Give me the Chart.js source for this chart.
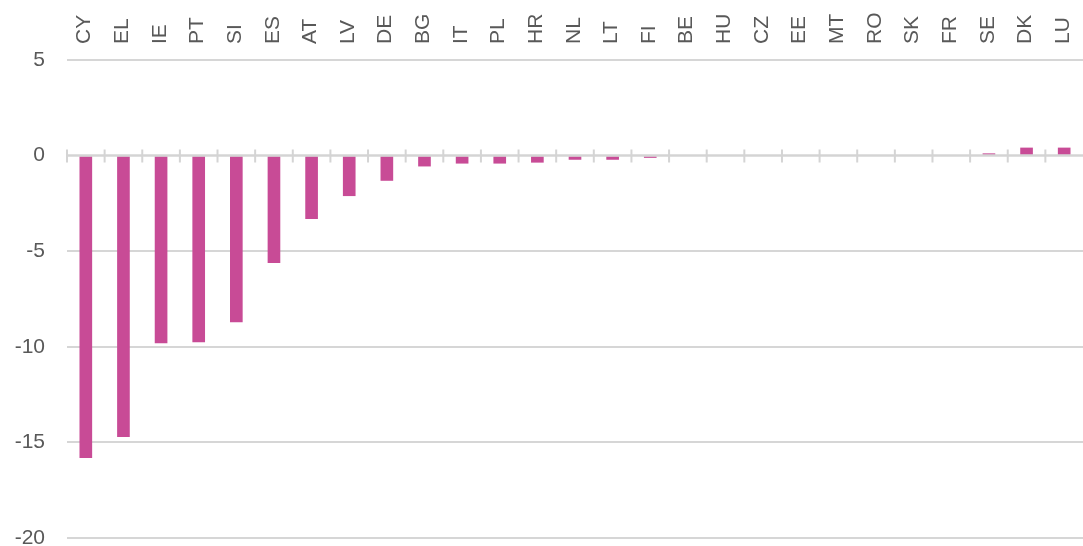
<!DOCTYPE html>
<html>
<head>
<meta charset="utf-8">
<script src="https://cdn.jsdelivr.net/npm/chart.js@4"></script>
<style>
  html, body { margin: 0; padding: 0; background: #fff; }
  #wrap { width: 1083px; height: 546px; position: relative; }
</style>
</head>
<body>
<div id="wrap"><canvas id="myChart"></canvas></div>
<script>
const countries = ['CY','EL','IE','PT','SI','ES','AT','LV','DE','BG','IT','PL','HR','NL','LT','FI','BE','HU','CZ','EE','MT','RO','SK','FR','SE','DK','LU'];
const values = [-15.8, -14.7, -9.8, -9.75, -8.7, -5.6, -3.3, -2.1, -1.3, -0.55, -0.4, -0.4, -0.35, -0.2, -0.2, -0.1, 0, 0, 0, 0, 0, 0, 0, 0, 0.1, 0.4, 0.4];
const yMin = -20, yMax = 5, yStep = 5;

const ctx = document.getElementById('myChart');

// zero line with small crossing ticks between categories
const zeroAxis = {
    id: 'zeroAxis',
    afterDatasetsDraw(chart) {
        const x = chart.scales.x, y = chart.scales.y;
        const y0 = y.getPixelForValue(0);
        const c = chart.ctx;
        const half = (x.getPixelForValue(1) - x.getPixelForValue(0)) / 2;
        c.save();
        c.strokeStyle = '#d4d4d4';
        c.lineWidth = 2.5;
        c.beginPath();
        c.moveTo(chart.chartArea.left, y0);
        c.lineTo(chart.chartArea.right, y0);
        c.stroke();
        c.lineWidth = 2;
        c.beginPath();
        for (let i = 0; i < countries.length; i++) {
            const px = x.getPixelForValue(i) - half;
            c.moveTo(px, y0 - 6);
            c.lineTo(px, y0 + 7);
        }
        c.stroke();
        c.restore();
    }
};

const myChart = new Chart(ctx, {
    type: 'bar',
    data: {
        labels: countries,
        datasets: [{
            data: values,
            backgroundColor: '#c84b96',
            barThickness: 12
        }]
    },
    options: {
        responsive: true,
        maintainAspectRatio: false,
        animation: false,
        layout: { padding: 0 },
        plugins: { legend: { display: false }, tooltip: { enabled: false } },
        scales: {
            x: {
                position: 'top',
                grid: { display: false, drawTicks: false },
                border: { display: false },
                afterFit: (axis) => { axis.height = 60; },
                ticks: {
                    color: '#595959',
                    font: { family: 'Liberation Sans', size: 21 },
                    minRotation: 90,
                    maxRotation: 90,
                    padding: 16,
                    labelOffset: 24,
                    autoSkip: false
                }
            },
            y: {
                min: yMin,
                max: yMax,
                afterFit: (axis) => { axis.width = 67; axis.paddingBottom = 8; axis.paddingTop = 0; },
                grid: {
                    color: (c) => c.tick && c.tick.value === 0 ? 'rgba(0,0,0,0)' : '#d6d6d6',
                    lineWidth: 2,
                    drawTicks: false
                },
                border: { display: false },
                ticks: {
                    stepSize: yStep,
                    color: '#595959',
                    font: { family: 'Liberation Sans', size: 21 },
                    padding: 22
                }
            }
        }
    },
    plugins: [zeroAxis]
});
</script>
</body>
</html>
